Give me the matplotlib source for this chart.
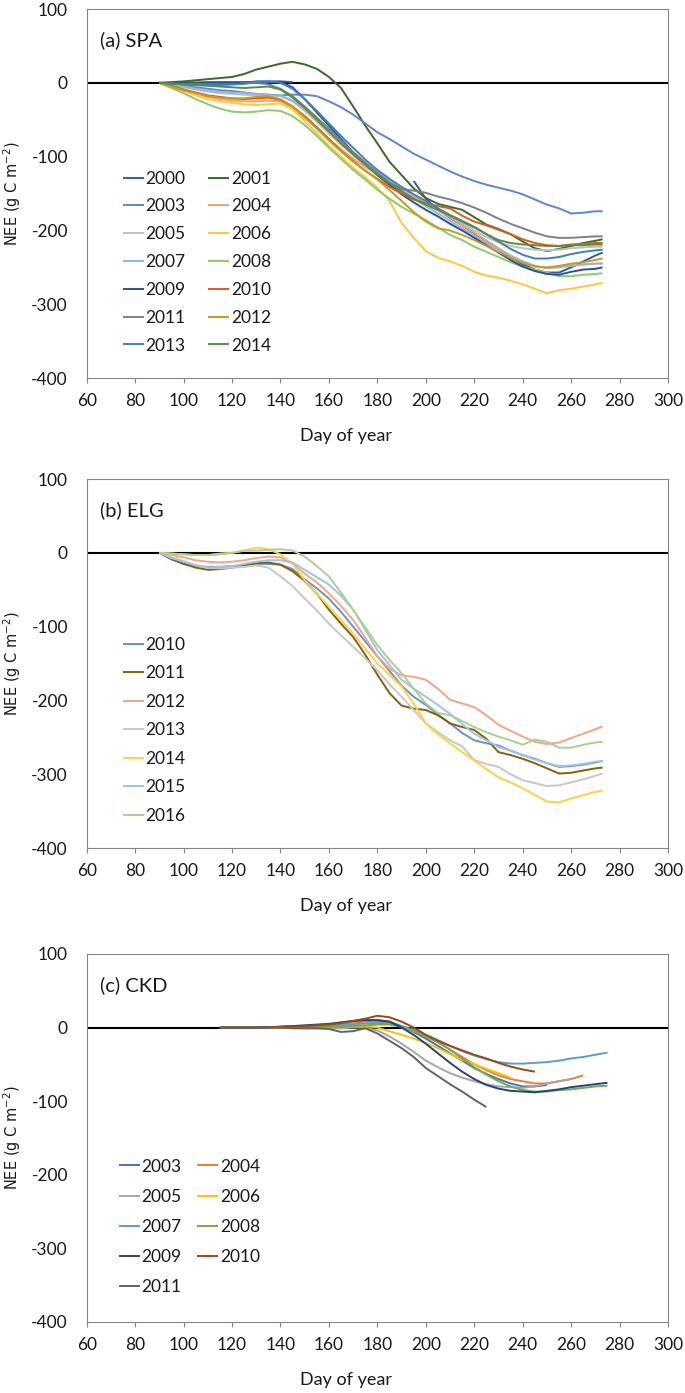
import numpy as np
import matplotlib
matplotlib.use("Agg")
import matplotlib.pyplot as plt

nan = np.nan

# ---------------- Panel (a) SPA ----------------
SPA_DAYS = [90, 95, 100, 105, 110, 115, 120, 125, 130, 135, 140, 145, 150, 155, 160, 165, 170, 175,
            180, 185, 190, 195, 200, 205, 210, 215, 220, 225, 230, 235, 240, 245, 250, 255, 260, 265,
            270, 273]
SPA_YEARS = ["2000", "2001", "2003", "2004", "2005", "2006", "2007", "2008", "2009", "2010", "2011",
             "2012", "2013", "2014"]
SPA_COLORS = ["#2F5F98", "#3A6B25", "#5B87D0", "#F4A06A", "#BFBFBF", "#FFC936", "#8EB8E3",
              "#8CCB6A", "#2C4EA0", "#E0581A", "#808080", "#CC9A16", "#3A80C8", "#55913A"]

SPA_2000 = [0, 0, 0.5, 0.5, 1, 1, 1, 1, 1.5, 2, 2, 1, nan, nan, nan, nan, nan, nan, nan, nan, nan,
            -133, -157, -172, -183, -193, -204, -214, -225, -236, -246, -253, -257, -257, -250, -242,
            -234, -230]
SPA_2001 = [0, 1, 2, 3.5, 5, 6.5, 8, 12, 18, 22, 26, 28.5, 25, 19, 8, -7, -32, -58, -82, -107, -125,
            -143, -156, -164, -168, -172, -182, -192, -198, -205, -215, -224, -228, -225, -221, -217,
            -214, -212]
SPA_2003 = [0, -2, -4, -6, -8, -10, -11, -13, -15, -16, -17, -16, -16, -18, -25, -33, -43, -55, -67,
            -76, -86, -96, -104, -112, -120, -127, -133, -138, -142, -146, -151, -158, -165, -170,
            -177, -176, -174, -174]
SPA_2004 = [0, -4, -9, -14, -19, -22, -24, -25, -25, -24, -25, -33, -46, -61, -76, -90, -103, -114,
            -124, -132, -142, -153, -163, -173, -182, -193, -203, -214, -224, -234, -242, -248, -251,
            -249, -247, -246, -245, -245]
SPA_2005 = [0, -3, -6, -9, -12, -14, -15, -16, -17, -17, -18, -25, -38, -53, -69, -84, -98, -112,
            -125, -137, -148, -158, -166, -172, -180, -190, -200, -209, -216, -221, -224, -226, -227,
            -226, -224, -223, -222, -222]
SPA_2006 = [0, -5, -11, -17, -22, -25, -27, -29, -30, -29, -28, -36, -52, -68, -85, -100, -115, -128,
            -142, -160, -190, -210, -228, -237, -242, -248, -256, -261, -264, -268, -273, -279, -285,
            -281, -279, -276, -273, -271]
SPA_2007 = [0, -3, -5, -8, -10, -12, -13, -14, -15, -16, -17, -24, -36, -50, -65, -80, -94, -108,
            -121, -133, -145, -156, -167, -177, -187, -197, -207, -217, -226, -235, -242, -248, -251,
            -250, -248, -246, -245, -244]
SPA_2008 = [0, -7, -14, -22, -29, -35, -39, -40, -39, -37, -38, -45, -57, -72, -88, -103, -118, -131,
            -145, -157, -168, -177, -186, -196, -206, -213, -222, -229, -236, -243, -249, -253, -257,
            -262, -262, -260, -259, -258]
SPA_2009 = [0, -1, -1, -1, -1, 0, 0, 0, 1, 1, 1, -6, -22, -40, -58, -76, -94, -110, -125, -138, -151,
            -162, -172, -181, -191, -200, -210, -220, -230, -240, -249, -255, -259, -260, -256, -253,
            -252, -250]
SPA_2010 = [0, -4, -9, -13, -17, -19, -21, -22, -21, -20, -23, -32, -45, -60, -76, -92, -106, -119,
            -130, -141, -150, -158, -163, -167, -170, -180, -188, -193, -199, -205, -212, -217, -220,
            -221, -219, -218, -217, -217]
SPA_2011 = [0, -1, -2, -2, -2, -2, -2, -1, 0, -2, -8, -18, -32, -47, -62, -78, -94, -108, -122, -135,
            -144, -146, -149, -154, -158, -163, -169, -176, -184, -191, -197, -203, -208, -210, -210,
            -209, -208, -208]
SPA_2012 = [0, -5, -10, -14, -18, -20, -21, -21, -19, -18, -22, -32, -47, -62, -78, -93, -107, -119,
            -131, -145, -160, -175, -188, -197, -200, -206, -213, -221, -229, -237, -244, -249, -250,
            -248, -245, -243, -240, -238]
SPA_2013 = [0, -1, -2, -3, -3, -3, -2, -1, 2, 2, 0, -8, -22, -38, -55, -72, -88, -104, -118, -130,
            -141, -151, -160, -170, -179, -187, -195, -205, -215, -225, -233, -238, -238, -236, -232,
            -229, -227, -226]
SPA_2014 = [0, -1, -2, -3, -4, -5, -6, -7, -6, -5, -9, -20, -34, -50, -66, -82, -97, -111, -124, -136,
            -147, -157, -165, -172, -180, -188, -196, -205, -213, -217, -219, -220, -221, -221, -220,
            -220, -219, -219]

# ---------------- Panel (b) ELG ----------------
ELG_DAYS = SPA_DAYS
ELG_YEARS = ["2010", "2011", "2012", "2013", "2014", "2015", "2016"]
ELG_COLORS = ["#6A8FD6", "#876008", "#F4A582", "#C8C8C8", "#FFD23F", "#9DC3E6", "#A9D18E"]

ELG_2010 = [0, -9, -15, -18, -19, -19, -18, -17, -15, -15, -16, -22, -36, -48, -62, -80, -100, -120,
            -140, -160, -180, -195, -206, -219, -231, -244, -254, -258, -261, -268, -274, -279, -285,
            -290, -289, -287, -284, -282]
ELG_2011 = [0, -8, -15, -20, -23, -22, -20, -17, -14, -13, -16, -25, -38, -55, -77, -96, -114, -138,
            -165, -190, -207, -211, -213, -220, -231, -236, -240, -252, -270, -274, -279, -285, -292,
            -299, -298, -295, -292, -291]
ELG_2012 = [0, -3, -6, -10, -12, -13, -12, -10, -7, -5, -6, -15, -28, -40, -55, -72, -91, -115, -140,
            -157, -166, -168, -172, -184, -199, -204, -209, -220, -233, -241, -249, -256, -259, -257,
            -251, -245, -239, -235]
ELG_2013 = [0, -6, -11, -17, -20, -21, -20, -19, -17, -20, -32, -45, -62, -78, -96, -112, -127, -143,
            -159, -178, -195, -213, -231, -243, -254, -262, -281, -286, -290, -300, -308, -312, -316,
            -315, -311, -307, -302, -299]
ELG_2014 = [0, -1, -2, -3, -3, -1, 0, 3, 7, 5, -2, -15, -37, -55, -73, -91, -109, -130, -150, -165,
            -181, -204, -231, -246, -258, -270, -281, -293, -304, -311, -319, -328, -337, -338, -333,
            -328, -324, -322]
ELG_2015 = [0, -7, -12, -17, -20, -19, -18, -15, -12, -10, -10, -13, -23, -33, -43, -58, -77, -104,
            -132, -152, -172, -184, -195, -206, -218, -232, -245, -254, -263, -268, -274, -280, -285,
            -289, -288, -286, -283, -282]
ELG_2016 = [0, -1, -2, -3, -3, -2, 0, 3, 3, 4, 5, 3, -5, -18, -32, -54, -77, -101, -125, -145, -163,
            -184, -204, -217, -220, -228, -236, -243, -249, -254, -260, -253, -256, -264, -264, -260,
            -257, -256]

# ---------------- Panel (c) CKD ----------------
CKD_DAYS = [115, 120, 125, 130, 135, 140, 145, 150, 155, 160, 165, 170, 175, 180, 185, 190, 195, 200,
            205, 210, 215, 220, 225, 230, 235, 240, 245, 250, 255, 260, 265, 270, 275]
CKD_YEARS = ["2003", "2004", "2005", "2006", "2007", "2008", "2009", "2010", "2011"]
CKD_COLORS = ["#4472C4", "#ED7D31", "#A5A5A5", "#FFC000", "#5B9BD5", "#70AD47", "#264478",
              "#9E480E", "#636363"]

CKD_2003 = [0, 0, 0, 0, 0.5, 1, 1.5, 2, 3, 4, 6, 8, 10, 10, 8, 2, -6, -15, -25, -35, -45, -55, -63,
            -70, -76, -80, -80, -78, nan, nan, nan, nan, nan]
CKD_2004 = [0, 0, 0, 0, 0, 1, 1.5, 2, 3, 4, 5, 7, 8, 8, 6, 1, -5, -12, -20, -30, -40, -50, -58, -65,
            -70, -73, -76, -76, -73, -70, -65, nan, nan]
CKD_2005 = [0, 0, 0, 0, 0, 0, -0.5, -1, -1, -1, -1, 0, 0, -4, -12, -22, -33, -45, -54, -62, -68,
            -73, -77, -80, -81, -82, -80, -76, -73, -70, nan, nan, nan]
CKD_2006 = [0, 0, 0, 0, 0, 0, 0, 0.5, 1, 1, 1.5, 2, 2, 0, -5, -10, -15, -21, -28, -36, -44, -50,
            -56, -62, -68, nan, nan, nan, nan, nan, nan, nan, nan]
CKD_2007 = [0, 0, 0, 0, 0, 0.5, 1, 1.5, 2, 2.5, 3.5, 4.5, 5.5, 6, 5, 2, -3, -10, -17, -25, -32, -38,
            -43, -47, -49, -49, -48, -47, -45, -42, -40, -37, -34]
CKD_2008 = [0, 0, 0, 0, 0, 0, 0, 0, 0.5, 1, 1.5, 2, 3, 4, 4, 1, -5, -12, -20, -30, -42, -54, -64,
            -73, -80, -85, -87, -87, -85, -84, -82, -80, -79]
CKD_2009 = [0, 0, 0, 0, 0.5, 1, 2, 3, 4, 5, 7, 9, 10, 10, 8, 0, -10, -22, -35, -48, -60, -70, -78,
            -83, -86, -87, -88, -86, -84, -81, -79, -77, -75]
CKD_2010 = [0, 0, 0, 0, 0.5, 1, 1.5, 2, 3, 4, 6, 9, 12, 16, 14, 8, 0, -10, -18, -25, -31, -37, -42,
            -48, -53, -57, -60, nan, nan, nan, nan, nan, nan]
CKD_2011 = [0, 0, 0, 0, 0, 0, -1, -1, -1, -2, -6, -5, -1, -8, -18, -28, -40, -55, -66, -77, -87,
            -98, -108, nan, nan, nan, nan, nan, nan, nan, nan, nan, nan]

SPA_SERIES = [SPA_2000, SPA_2001, SPA_2003, SPA_2004, SPA_2005, SPA_2006, SPA_2007, SPA_2008,
              SPA_2009, SPA_2010, SPA_2011, SPA_2012, SPA_2013, SPA_2014]
ELG_SERIES = [ELG_2010, ELG_2011, ELG_2012, ELG_2013, ELG_2014, ELG_2015, ELG_2016]
CKD_SERIES = [CKD_2003, CKD_2004, CKD_2005, CKD_2006, CKD_2007, CKD_2008, CKD_2009, CKD_2010,
              CKD_2011]

X_TICKS = list(range(60, 301, 20))
Y_TICKS = list(range(-400, 101, 100))

plt.rcParams["font.family"] = ["Lato", "DejaVu Sans"]
plt.rcParams["axes.unicode_minus"] = False
TXT = "#1a1a1a"
SPINE = "#858585"

fig = plt.figure(figsize=(6.85, 13.93), dpi=100)


def panel(rect, title, days, series, years, colors, ncol, leg_anchor, labelspacing, colspace):
    ax = fig.add_axes(rect)
    handles = []
    for vals, yr, col in zip(series, years, colors):
        h, = ax.plot(days, vals, color=col, lw=1.4, label=yr, solid_capstyle="butt")
        handles.append(h)
    ax.axhline(0, color="black", lw=1.5, zorder=1)
    ax.set_xlim(60, 300)
    ax.set_ylim(-400, 100)
    ax.set_xticks(X_TICKS)
    ax.set_yticks(Y_TICKS)
    ax.tick_params(axis="x", direction="out", length=3.6, width=0.8, color=SPINE, pad=7,
                   labelsize=12.5, labelcolor=TXT)
    ax.tick_params(axis="y", length=0, pad=13.5, labelsize=12.5, labelcolor=TXT)
    for s in ax.spines.values():
        s.set_color(SPINE)
        s.set_linewidth(0.8)
    ax.set_xlabel("Day of year", fontsize=13, color=TXT)
    ax.xaxis.label.set_va("center")
    ax.xaxis.set_label_coords(0.446, -0.157)
    ax.set_ylabel("NEE (g C m$^{-2}$)", fontsize=10.5, color=TXT, family="DejaVu Sans")
    ax.yaxis.label.set_va("center")
    ax.yaxis.set_label_coords(-0.129, 0.5)
    ax.text(0.022, 0.916, title, transform=ax.transAxes, fontsize=14.5, va="center", ha="left",
            color=TXT)
    if ncol == 2:
        order = list(range(0, len(handles), 2)) + list(range(1, len(handles), 2))
    else:
        order = list(range(len(handles)))
    hs = [handles[i] for i in order]
    ax.legend(hs, [h.get_label() for h in hs], ncol=ncol, loc="upper left",
              bbox_to_anchor=leg_anchor, frameon=False, fontsize=12.5, handlelength=1.2,
              handletextpad=0.1, columnspacing=colspace, labelspacing=labelspacing,
              borderpad=0, borderaxespad=0, labelcolor=TXT)
    return ax


LEFT, WIDTH = 0.1266, 0.8486
panel([LEFT, 0.7286, WIDTH, 0.2649], "(a) SPA", SPA_DAYS, SPA_SERIES, SPA_YEARS, SPA_COLORS,
      2, (0.062, 0.562), 0.68, 1.32)
panel([LEFT, 0.3912, WIDTH, 0.2649], "(b) ELG", ELG_DAYS, ELG_SERIES, ELG_YEARS, ELG_COLORS,
      1, (0.062, 0.573), 0.72, 1.3)
panel([LEFT, 0.0510, WIDTH, 0.2642], "(c) CKD", CKD_DAYS, CKD_SERIES, CKD_YEARS, CKD_COLORS,
      2, (0.055, 0.444), 0.82, 0.92)

fig.savefig("out.png", dpi=100)
